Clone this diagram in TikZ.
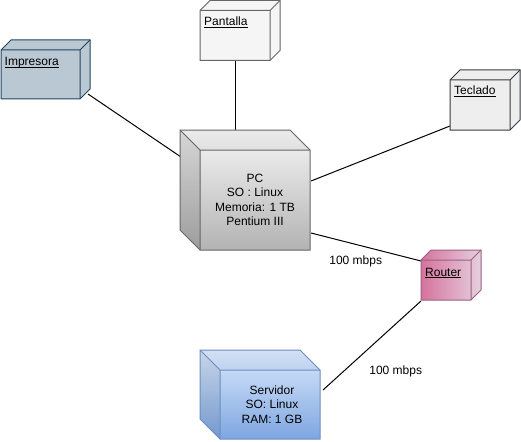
\documentclass[tikz,border=0pt]{standalone}
\usepackage{fontspec}
\setmainfont{Liberation Sans}
\usetikzlibrary{calc}
\definecolor{impF}{HTML}{BAC8D3}\definecolor{impS}{HTML}{23445D}
\definecolor{panF}{HTML}{F5F5F5}\definecolor{panS}{HTML}{666666}
\definecolor{tecF}{HTML}{EEEEEE}\definecolor{tecS}{HTML}{36393D}
\definecolor{pcA}{HTML}{F5F5F5}\definecolor{pcB}{HTML}{B3B3B3}\definecolor{pcS}{HTML}{666666}
\definecolor{rtA}{HTML}{D5739D}\definecolor{rtB}{HTML}{E6D0DE}\definecolor{rtS}{HTML}{996185}
\definecolor{svA}{HTML}{DAE8FC}\definecolor{svB}{HTML}{7EA6E0}\definecolor{svS}{HTML}{6C8EBF}
\newcommand\ulbl[1]{\setbox0\hbox{#1}\rlap{\rule[-1.8pt]{\wd0}{0.75pt}}\box0}
% outline of a UML node (depth 10 to top-right)
\newcommand\umlout[1]{(#1.north west) -- ++(10,-10) -- ($(#1.north east)+(10,-10)$) -- ($(#1.south east)+(10,-10)$) -- (#1.south east) -- (#1.south west) -- cycle}
\newcommand\umlin[1]{(#1.north west) -- (#1.north east) -- ++(10,-10) (#1.north east) -- (#1.south east)}
% outline of a cube (depth 20 to top-left)
\newcommand\cubeout[1]{($(#1.north west)+(-20,-20)$) -- ($(#1.north east)+(-20,-20)$) -- (#1.north east) -- (#1.south east) -- (#1.south west) -- ($(#1.south west)+(-20,-20)$) -- cycle}
\newcommand\cubeleft[1]{($(#1.north west)+(-20,-20)$) -- (#1.north west) -- (#1.south west) -- ($(#1.south west)+(-20,-20)$) -- cycle}
\newcommand\cubetop[1]{($(#1.north west)+(-20,-20)$) -- ($(#1.north east)+(-20,-20)$) -- (#1.north east) -- (#1.north west) -- cycle}
\newcommand\cubein[1]{($(#1.north west)+(-20,-20)$) -- (#1.north west) -- (#1.north east) (#1.north west) -- (#1.south west)}
\begin{document}
\begin{tikzpicture}[x=1pt,y=-1pt,
  face/.style={line width=1pt, line join=miter},
  box/.style={rectangle, inner sep=0pt, outer sep=0pt, draw=none, anchor=north west},
  lbl/.style={anchor=base west, inner sep=0pt, font=\fontsize{12}{14}\selectfont},
  txt/.style={align=center, inner sep=0pt, font=\fontsize{12}{14.5}\selectfont},
  elbl/.style={inner sep=0pt, font=\fontsize{12}{14}\selectfont},
  wire/.style={draw=black, line width=1pt}]
\path[use as bounding box] (0,0) rectangle (521,441);
% placement of front faces
\node[box, minimum width=79pt, minimum height=49pt] (imp) at (1,50) {};
\node[box, minimum width=70pt, minimum height=50pt] (pan) at (200,10.5) {};
\node[box, minimum width=60pt, minimum height=50pt] (tec) at (450,80) {};
\node[box, minimum width=50pt, minimum height=40pt] (rt) at (421,260) {};
\node[box, minimum width=110pt, minimum height=100pt] (pc) at (200,150) {};
\node[box, minimum width=100pt, minimum height=69pt] (sv) at (220,370) {};
% connectors
\coordinate (pctop) at ($(pc.north)+(0,-20)$);
\draw[wire] (pan.south) -- (pan.south |- pctop);
\draw[wire] ($(imp.south east)+(8,-5)$) -- ($(pc.north west)+(-19,7)$);
\draw[wire] ($(pc.north east)+(1,31)$) -- ($(tec.south west)+(0,-4)$);
\draw[wire] ($(pc.south east)+(1,-17)$) -- ($(rt.north west)+(0,1)$);
\draw[wire] ($(rt.south west)+(0,1)$) -- ($(sv.north east)+(3,20)$);
\node[elbl] (l1) at (355.7,261) {100 mbps};
\node[elbl] (l2) at (395.7,371) {100 mbps};
% Impresora
\filldraw[face, fill=impF, draw=impS] \umlout{imp};
\draw[face, draw=impS] \umlin{imp};
\node[lbl] (impl) at ($(imp.north west)+(3.5,15.5)$) {\ulbl{Impresora}};
% Pantalla
\filldraw[face, fill=panF, draw=panS] \umlout{pan};
\draw[face, draw=panS] \umlin{pan};
\node[lbl] (panl) at ($(pan.north west)+(4,15.5)$) {\ulbl{Pantalla}};
% Teclado
\filldraw[face, fill=tecF, draw=tecS] \umlout{tec};
\draw[face, draw=tecS] \umlin{tec};
\node[lbl] (tecl) at ($(tec.north west)+(4,15)$) {\ulbl{Teclado}};
% Router
\shade[left color=rtA, right color=rtB] \umlout{rt};
\draw[face, draw=rtS] \umlout{rt};
\draw[face, draw=rtS] \umlin{rt};
\node[lbl] (rtl) at ($(rt.north west)+(4,16)$) {\ulbl{Router}};
% PC
\shade[top color=pcA, bottom color=pcB] \cubeout{pc};
\fill[black, opacity=0.12] \cubeleft{pc};
\fill[black, opacity=0.04] \cubetop{pc};
\draw[face, draw=pcS] \cubeout{pc};
\draw[face, draw=pcS] \cubein{pc};
\node[txt] (pct) at (pc.center) {PC\\SO : Linux\\Memoria: 1 TB\\Pentium III};
% Servidor
\shade[top color=svA, bottom color=svB] \cubeout{sv};
\fill[black, opacity=0.08] \cubeleft{sv};
\fill[black, opacity=0.03] \cubetop{sv};
\draw[face, draw=svS] \cubeout{sv};
\draw[face, draw=svS] \cubein{sv};
\node[txt] (svt) at ($(sv.center)+(2,0)$) {Servidor\\SO: Linux\\RAM: 1 GB};
\end{tikzpicture}
\end{document}
